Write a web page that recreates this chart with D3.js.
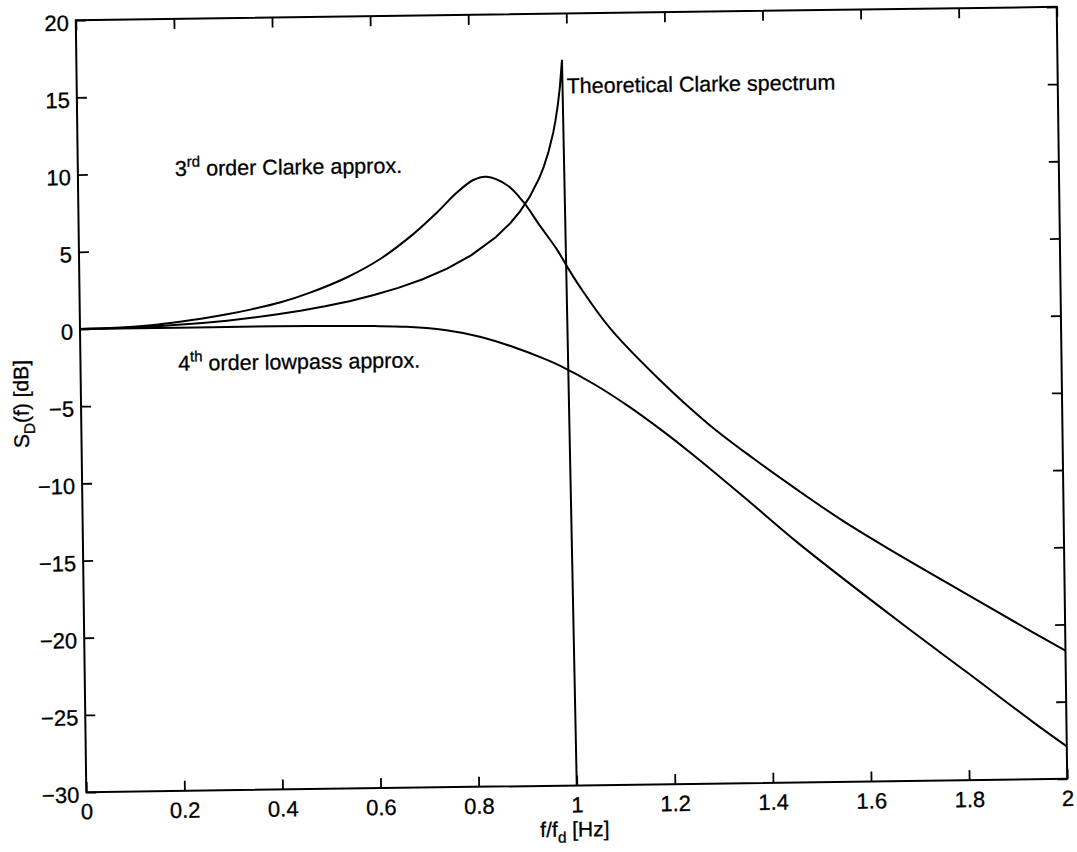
<!DOCTYPE html>
<html><head><meta charset="utf-8">
<script src="https://cdn.jsdelivr.net/npm/d3@7"></script>
<style>
body{margin:0;background:#fff}
text{font-family:"Liberation Sans",Arial,Helvetica,sans-serif;fill:#000;stroke:#000;stroke-width:0.3px}
</style>
</head><body>
<svg id="c" width="1077" height="852"></svg>
<script>
// ---- data ----
const clarkeF  = [0,0.05,0.1,0.15,0.2,0.25,0.3,0.35,0.4,0.45,0.5,0.55,0.6,0.65,0.7,0.75,0.8,0.85,0.88,0.9,0.92,0.94,0.95,0.96,0.97,0.975,0.98,0.985,0.99,1.0];
const clarkeDb = [0,0.01,0.04,0.10,0.18,0.28,0.41,0.57,0.76,0.98,1.25,1.56,1.94,2.38,2.92,3.59,4.44,5.57,6.47,7.21,8.14,9.34,10.11,11.06,12.28,13.07,14.02,15.26,17.01,-30];

const thirdF  = [0,0.05,0.1,0.15,0.2,0.25,0.3,0.35,0.41,0.47,0.545,0.613,0.682,0.73,0.772,0.806,0.833,0.874,0.907,0.94,0.974,0.994,1.02,1.08,1.18,1.28,1.37,1.46,1.55,1.645,1.8,1.935,2.0];
const thirdDb = [0,0.02,0.09,0.2,0.37,0.57,0.82,1.12,1.55,2.15,3.1,4.25,5.85,7.2,8.5,9.3,9.5,8.95,7.85,6.3,4.75,3.65,2.3,-0.4,-3.8,-6.75,-9.0,-11.1,-13.1,-15.0,-17.95,-20.5,-21.7];

const lowF  = [0,0.2,0.4,0.5,0.6,0.666,0.747,0.815,0.883,0.95,0.977,1.045,1.112,1.18,1.243,1.35,1.462,1.663,1.798,1.932,2.0];
const lowDb = [0,0,0,-0.02,-0.07,-0.15,-0.4,-0.85,-1.55,-2.4,-2.8,-4.0,-5.4,-7.0,-8.6,-11.5,-14.6,-19.7,-23.0,-26.3,-27.9];

const xTicks = [0,0.2,0.4,0.6,0.8,1,1.2,1.4,1.6,1.8,2];
const xTickLabels = ["0","0.2","0.4","0.6","0.8","1","1.2","1.4","1.6","1.8","2"];
const yTicks = [-30,-25,-20,-15,-10,-5,0,5,10,15,20];
const yTickLabels = ["\u221230","\u221225","\u221220","\u221215","\u221210","\u22125","0","5","10","15","20"];

// ---- layout ----
const padL = 81, padT = 13.5, pw = 981, ph = 772;
const svg = d3.select("#c");
const root = svg.append("g").attr("transform", "rotate(-0.78,571.5,399.5)");
const g = root.append("g").attr("transform", `translate(${padL},${padT})`);

const x = d3.scaleLinear().domain([0, 2]).range([0, pw]);
const y = d3.scaleLinear().domain([-30, 20]).range([ph, 0]);

g.append("defs").append("clipPath").attr("id", "clip")
  .append("rect").attr("x", 0).attr("y", 0).attr("width", pw).attr("height", ph);

const tickFont = 22;
const xb = g.append("g").attr("transform", `translate(0,${ph})`)
  .call(d3.axisBottom(x).tickValues(xTicks).tickFormat((d, i) => xTickLabels[i])
    .tickSizeInner(-10).tickSizeOuter(0).tickPadding(11.4));
const yl = g.append("g")
  .call(d3.axisLeft(y).tickValues(yTicks).tickFormat((d, i) => yTickLabels[i])
    .tickSizeInner(-10).tickSizeOuter(0).tickPadding(7));
const xt = g.append("g").call(d3.axisTop(x).tickValues(xTicks).tickFormat("").tickSizeInner(-10).tickSizeOuter(0));
const yr = g.append("g").attr("transform", `translate(${pw},0)`)
  .call(d3.axisRight(y).tickValues(yTicks).tickFormat("").tickSizeInner(-10).tickSizeOuter(0));

[xb, yl, xt, yr].forEach(a => {
  a.select(".domain").remove();
  a.selectAll(".tick line").attr("stroke", "#000").attr("stroke-width", 1.8);
  a.selectAll(".tick text").attr("font-size", tickFont)
    .style("font-family", '"Liberation Sans",Arial,Helvetica,sans-serif').attr("fill", "#000");
});
yl.selectAll(".tick text").attr("dy", "0.45em");

g.append("rect").attr("x", 0).attr("y", 0).attr("width", pw).attr("height", ph)
  .attr("fill", "none").attr("stroke", "#000").attr("stroke-width", 2);

const mk = (fs, ds) => fs.map((f, i) => [f, ds[i]]);
const lineSmooth = d3.line().x(d => x(d[0])).y(d => y(d[1])).curve(d3.curveCatmullRom.alpha(0.5));
const lineLin = d3.line().x(d => x(d[0])).y(d => y(d[1])).curve(d3.curveLinear);
const curves = g.append("g").attr("clip-path", "url(#clip)");
curves.append("path").datum(mk(clarkeF, clarkeDb)).attr("d", lineLin)
  .attr("fill", "none").attr("stroke", "#000").attr("stroke-width", 2);
curves.append("path").datum(mk(thirdF, thirdDb)).attr("d", lineSmooth)
  .attr("fill", "none").attr("stroke", "#000").attr("stroke-width", 2);
curves.append("path").datum(mk(lowF, lowDb)).attr("d", lineSmooth)
  .attr("fill", "none").attr("stroke", "#000").attr("stroke-width", 2);

const annFont = 21.5;
g.append("text").attr("x", 489.8).attr("y", 79.7).attr("font-size", annFont)
  .text("Theoretical Clarke spectrum");

const t3 = g.append("text").attr("x", 97).attr("y", 157.1).attr("font-size", annFont);
t3.append("tspan").text("3");
t3.append("tspan").attr("font-size", 15).attr("dy", -9).text("rd");
t3.append("tspan").attr("dy", 9).text(" order Clarke approx.");

const t4 = g.append("text").attr("x", 97.6).attr("y", 351.9).attr("font-size", annFont);
t4.append("tspan").text("4");
t4.append("tspan").attr("font-size", 15).attr("dy", -9).text("th");
t4.append("tspan").attr("dy", 9).text(" order lowpass approx.");

const xl = g.append("text").attr("x", 488).attr("y", 823).attr("text-anchor", "middle").attr("font-size", 21);
xl.append("tspan").text("f/f");
xl.append("tspan").attr("font-size", 15.5).attr("dy", 6).text("d");
xl.append("tspan").attr("dy", -6).text(" [Hz]");

const ylab = g.append("text").attr("transform", "translate(-52.5,383.1) rotate(-90)")
  .attr("text-anchor", "middle").attr("font-size", 21);
ylab.append("tspan").text("S");
ylab.append("tspan").attr("font-size", 15.5).attr("dy", 6).text("D");
ylab.append("tspan").attr("dy", -6).text("(f) [dB]");
</script>
</body></html>
